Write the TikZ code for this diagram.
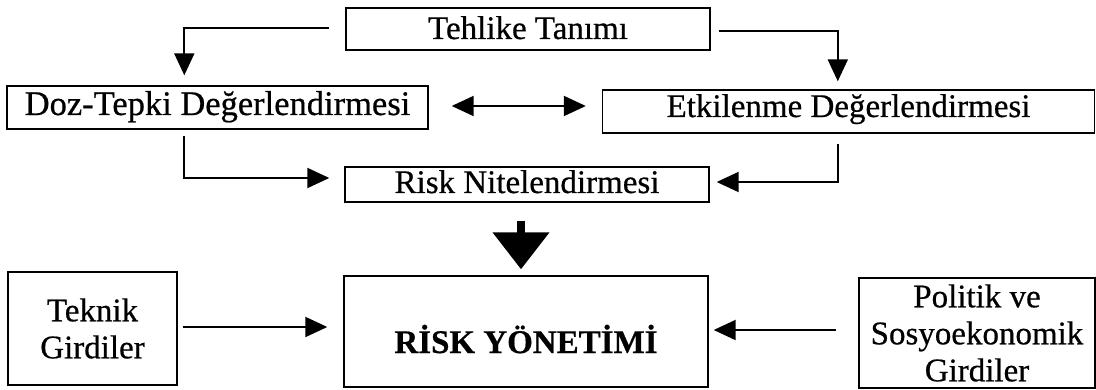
\documentclass[tikz,border=0pt]{standalone}
\usepackage{fontspec}
\setmainfont{Liberation Serif}[FakeBold=0.6]
\usetikzlibrary{arrows.meta,calc}
\begin{document}
\begin{tikzpicture}[x=1pt,y=-1pt,
  box/.style={draw, line width=1.4pt, inner sep=0pt, font=\fontsize{33}{37}\selectfont, align=center},
  conn/.style={line width=2pt, -{Triangle[length=22pt,width=20pt]}},
  dconn/.style={line width=2pt, {Triangle[length=22pt,width=20pt]}-{Triangle[length=22pt,width=20pt]}},
  bigconn/.style={line width=8pt, -{Triangle[length=37pt,width=55pt]}}]
\useasboundingbox (0,0) rectangle (1096,390);

\node[box, minimum width=364pt, minimum height=42pt, text height=22pt, text depth=2pt] (teh) at (528,29) {Tehlike Tanımı};
\node[box, minimum width=421pt, minimum height=43pt, text height=22pt, text depth=7pt, font=\fontsize{34.5}{37}\selectfont] (doz) at (217.5,107.5) {Doz-Tepki Değerlendirmesi};
\node[box, minimum width=492pt, minimum height=43pt, text height=22pt, text depth=11pt] (etk) at (848.5,111.5) {Etkilenme Değerlendirmesi};
\node[box, minimum width=364pt, minimum height=35pt, text height=22pt, text depth=5pt] (rn) at (527,184.5) {Risk Nitelendirmesi};
\node[box, minimum width=364pt, minimum height=111pt, text height=43pt, text depth=0pt, font=\fontsize{33}{37}\selectfont\bfseries] (ry) at (526,331.5) {RİSK YÖNETİMİ};
\node[box, minimum width=169pt, minimum height=113pt] (tek) at (92.5,328.5) {Teknik\\Girdiler};
\node[box, minimum width=236pt, minimum height=110pt] (pol) at (977,333) {Politik ve\\Sosyoekonomik\\Girdiler};

\draw[conn] ($(teh.west)+(-16,-1)$) -| ($(doz.north west)+(178,-10)$);
\draw[conn] ($(teh.east)+(8,2)$) -| ($(etk.north west)+(236,-8)$);
\draw[dconn] ($(doz.east)+(23,-1.5)$) -- ($(etk.west)+(-16,-5.5)$);
\draw[conn] ($(doz.south west)+(178,6)$) |- ($(rn.west)+(-15,-6.5)$);
\draw[conn] ($(etk.south west)+(236,10)$) |- ($(rn.east)+(7,-2.5)$);
\draw[bigconn] ($(rn.south)+(-6,18)$) -- ($(ry.north)+(-5,-6)$);
\draw[conn] ($(tek.east)+(5,-1.5)$) -- ($(ry.west)+(-16,-4.5)$);
\draw[conn] ($(pol.west)+(-22,-3)$) -- ($(ry.east)+(5,-1.5)$);
\end{tikzpicture}
\end{document}
